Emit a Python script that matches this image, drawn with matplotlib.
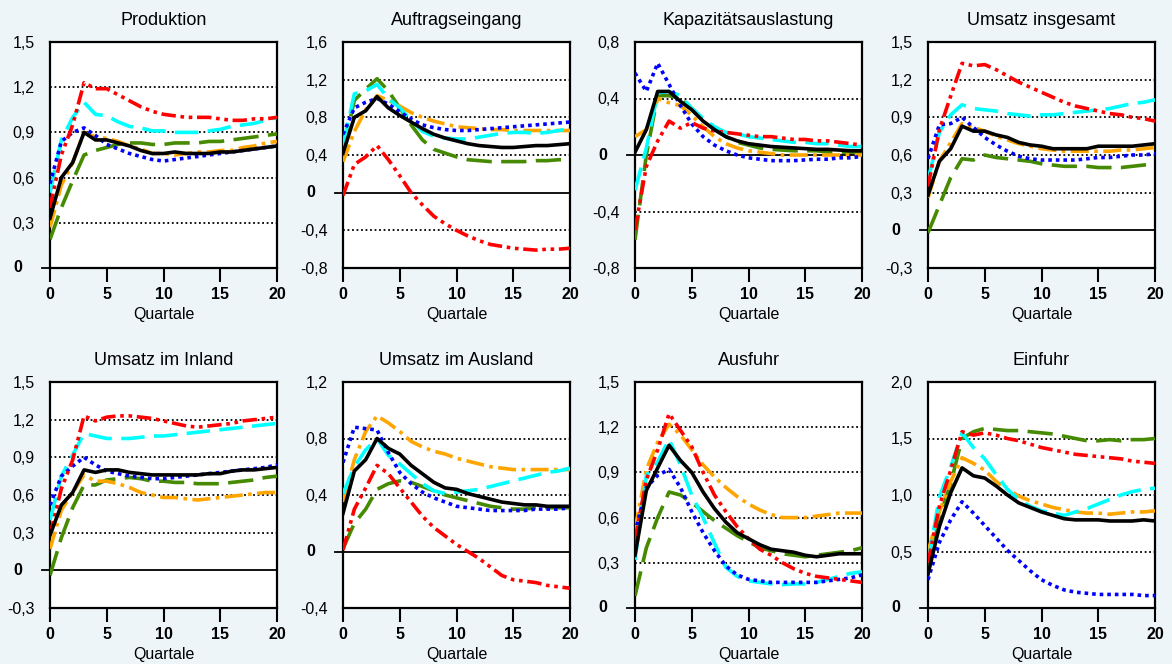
import matplotlib.pyplot as plt
from matplotlib.transforms import blended_transform_factory

plt.rcParams['font.family'] = ['Liberation Sans', 'DejaVu Sans']

quarters = list(range(21))

# Produktion
prod_black  = [0.33, 0.60, 0.70, 0.90, 0.85, 0.85, 0.83, 0.81, 0.78, 0.76, 0.76, 0.77, 0.76, 0.76, 0.76, 0.77, 0.77, 0.78, 0.79, 0.80, 0.81]
prod_red    = [0.40, 0.75, 0.95, 1.23, 1.19, 1.19, 1.15, 1.11, 1.07, 1.04, 1.02, 1.01, 1.00, 1.00, 1.00, 0.99, 0.98, 0.98, 0.99, 0.99, 1.00]
prod_cyan   = [0.50, 0.85, 1.00, 1.10, 1.02, 1.01, 0.97, 0.94, 0.93, 0.91, 0.91, 0.90, 0.90, 0.90, 0.91, 0.92, 0.94, 0.95, 0.96, 0.98, 1.00]
prod_blue   = [0.56, 0.84, 0.90, 0.93, 0.88, 0.82, 0.79, 0.76, 0.74, 0.72, 0.71, 0.72, 0.73, 0.74, 0.75, 0.76, 0.77, 0.78, 0.79, 0.80, 0.81]
prod_orange = [0.27, 0.55, 0.70, 0.90, 0.87, 0.86, 0.84, 0.81, 0.79, 0.76, 0.76, 0.75, 0.76, 0.77, 0.77, 0.78, 0.78, 0.80, 0.81, 0.83, 0.84]
prod_green  = [0.19, 0.40, 0.58, 0.75, 0.78, 0.80, 0.82, 0.83, 0.83, 0.82, 0.82, 0.83, 0.83, 0.83, 0.84, 0.84, 0.85, 0.86, 0.87, 0.88, 0.89]

# Auftragseingang
auft_black  = [0.42, 0.80, 0.87, 1.02, 0.90, 0.82, 0.75, 0.68, 0.62, 0.58, 0.55, 0.52, 0.50, 0.49, 0.48, 0.48, 0.49, 0.50, 0.50, 0.51, 0.52]
auft_red    = [-0.03, 0.30, 0.38, 0.50, 0.35, 0.18, 0.00, -0.13, -0.25, -0.33, -0.40, -0.46, -0.51, -0.55, -0.57, -0.59, -0.60, -0.61, -0.60, -0.60, -0.59]
auft_cyan   = [0.50, 1.05, 1.08, 1.15, 1.00, 0.90, 0.77, 0.65, 0.60, 0.58, 0.57, 0.57, 0.59, 0.61, 0.63, 0.64, 0.64, 0.63, 0.64, 0.66, 0.68]
auft_blue   = [0.62, 0.90, 0.96, 1.00, 0.94, 0.86, 0.78, 0.72, 0.69, 0.67, 0.66, 0.66, 0.67, 0.68, 0.69, 0.70, 0.71, 0.72, 0.73, 0.74, 0.75]
auft_orange = [0.33, 0.65, 0.88, 1.03, 0.98, 0.92, 0.85, 0.80, 0.76, 0.73, 0.70, 0.69, 0.68, 0.67, 0.67, 0.66, 0.66, 0.66, 0.66, 0.66, 0.66]
auft_green  = [0.45, 0.98, 1.10, 1.21, 1.08, 0.90, 0.72, 0.56, 0.46, 0.42, 0.38, 0.35, 0.34, 0.33, 0.33, 0.33, 0.33, 0.34, 0.34, 0.35, 0.35]

# Kapazitätsauslastung
kapa_black  = [0.02, 0.18, 0.45, 0.45, 0.38, 0.32, 0.24, 0.18, 0.13, 0.10, 0.08, 0.07, 0.06, 0.055, 0.05, 0.045, 0.04, 0.04, 0.035, 0.03, 0.03]
kapa_red    = [-0.53, -0.08, 0.10, 0.24, 0.19, 0.23, 0.19, 0.17, 0.16, 0.15, 0.14, 0.13, 0.13, 0.12, 0.11, 0.11, 0.10, 0.10, 0.09, 0.08, 0.07]
kapa_cyan   = [-0.25, 0.05, 0.44, 0.45, 0.42, 0.33, 0.26, 0.20, 0.16, 0.15, 0.13, 0.12, 0.11, 0.10, 0.09, 0.09, 0.08, 0.08, 0.07, 0.06, 0.06]
kapa_blue   = [0.58, 0.45, 0.65, 0.50, 0.35, 0.22, 0.13, 0.07, 0.03, 0.00, -0.02, -0.03, -0.04, -0.04, -0.04, -0.035, -0.03, -0.03, -0.02, -0.02, -0.01]
kapa_orange = [0.13, 0.18, 0.40, 0.37, 0.35, 0.28, 0.20, 0.13, 0.08, 0.05, 0.03, 0.02, 0.01, 0.00, 0.00, 0.00, 0.00, 0.00, 0.00, 0.00, 0.00]
kapa_green  = [-0.60, 0.00, 0.42, 0.42, 0.40, 0.33, 0.25, 0.18, 0.13, 0.09, 0.07, 0.05, 0.04, 0.035, 0.03, 0.03, 0.03, 0.02, 0.02, 0.02, 0.02]

# Umsatz insgesamt
ums_black  = [0.28, 0.55, 0.65, 0.83, 0.79, 0.79, 0.76, 0.74, 0.70, 0.68, 0.67, 0.65, 0.65, 0.65, 0.65, 0.67, 0.67, 0.67, 0.67, 0.68, 0.69]
ums_red    = [0.35, 0.80, 1.07, 1.33, 1.31, 1.32, 1.28, 1.23, 1.18, 1.14, 1.10, 1.06, 1.02, 0.99, 0.97, 0.95, 0.93, 0.92, 0.90, 0.89, 0.87]
ums_cyan   = [0.40, 0.78, 0.92, 1.00, 0.97, 0.96, 0.95, 0.93, 0.92, 0.91, 0.92, 0.92, 0.93, 0.94, 0.95, 0.96, 0.97, 0.99, 1.01, 1.02, 1.04]
ums_blue   = [0.57, 0.84, 0.85, 0.90, 0.82, 0.74, 0.68, 0.63, 0.59, 0.57, 0.56, 0.56, 0.56, 0.56, 0.57, 0.58, 0.58, 0.59, 0.60, 0.60, 0.61]
ums_orange = [0.26, 0.55, 0.70, 0.85, 0.82, 0.79, 0.75, 0.72, 0.69, 0.67, 0.65, 0.64, 0.63, 0.63, 0.63, 0.63, 0.63, 0.64, 0.64, 0.65, 0.66]
ums_green  = [-0.02, 0.20, 0.42, 0.57, 0.56, 0.60, 0.58, 0.57, 0.56, 0.55, 0.53, 0.52, 0.51, 0.51, 0.51, 0.50, 0.50, 0.50, 0.51, 0.52, 0.53]

# Umsatz im Inland
inl_black  = [0.28, 0.52, 0.62, 0.80, 0.78, 0.80, 0.80, 0.78, 0.77, 0.76, 0.76, 0.76, 0.76, 0.76, 0.77, 0.77, 0.79, 0.80, 0.80, 0.81, 0.82]
inl_red    = [0.28, 0.65, 0.88, 1.23, 1.19, 1.22, 1.23, 1.23, 1.22, 1.21, 1.19, 1.17, 1.15, 1.14, 1.15, 1.16, 1.17, 1.19, 1.20, 1.21, 1.22]
inl_cyan   = [0.40, 0.75, 0.92, 1.09, 1.07, 1.05, 1.05, 1.05, 1.06, 1.07, 1.07, 1.08, 1.09, 1.10, 1.11, 1.12, 1.13, 1.14, 1.15, 1.16, 1.17]
inl_blue   = [0.52, 0.75, 0.83, 0.90, 0.84, 0.79, 0.77, 0.75, 0.74, 0.73, 0.73, 0.74, 0.75, 0.76, 0.77, 0.78, 0.79, 0.80, 0.81, 0.82, 0.84]
inl_orange = [0.17, 0.48, 0.62, 0.76, 0.71, 0.71, 0.69, 0.66, 0.62, 0.60, 0.58, 0.58, 0.57, 0.56, 0.57, 0.58, 0.59, 0.60, 0.61, 0.62, 0.62]
inl_green  = [-0.04, 0.26, 0.50, 0.68, 0.68, 0.72, 0.73, 0.74, 0.73, 0.71, 0.71, 0.70, 0.70, 0.69, 0.69, 0.69, 0.70, 0.71, 0.72, 0.74, 0.75]

# Umsatz im Ausland
ausl_black  = [0.27, 0.57, 0.65, 0.80, 0.73, 0.69, 0.61, 0.55, 0.49, 0.45, 0.44, 0.41, 0.39, 0.37, 0.35, 0.34, 0.33, 0.33, 0.32, 0.32, 0.32]
ausl_red    = [0.01, 0.30, 0.45, 0.61, 0.55, 0.45, 0.35, 0.25, 0.17, 0.11, 0.05, 0.00, -0.05, -0.11, -0.17, -0.20, -0.21, -0.22, -0.24, -0.25, -0.26]
ausl_cyan   = [0.41, 0.60, 0.72, 0.80, 0.68, 0.62, 0.55, 0.48, 0.43, 0.41, 0.42, 0.43, 0.44, 0.46, 0.48, 0.50, 0.52, 0.54, 0.56, 0.57, 0.59]
ausl_blue   = [0.63, 0.88, 0.87, 0.86, 0.70, 0.56, 0.48, 0.42, 0.38, 0.35, 0.32, 0.31, 0.30, 0.29, 0.29, 0.29, 0.29, 0.30, 0.30, 0.30, 0.31]
ausl_orange = [0.35, 0.65, 0.85, 0.96, 0.91, 0.85, 0.78, 0.74, 0.71, 0.69, 0.66, 0.64, 0.62, 0.60, 0.59, 0.58, 0.58, 0.58, 0.58, 0.58, 0.58]
ausl_green  = [0.02, 0.20, 0.30, 0.44, 0.48, 0.50, 0.49, 0.46, 0.43, 0.40, 0.38, 0.36, 0.34, 0.32, 0.31, 0.30, 0.30, 0.31, 0.31, 0.31, 0.31]

# Ausfuhr
ausf_black  = [0.35, 0.78, 0.93, 1.08, 0.98, 0.90, 0.77, 0.66, 0.57, 0.50, 0.46, 0.42, 0.39, 0.38, 0.37, 0.35, 0.34, 0.35, 0.36, 0.36, 0.36]
ausf_red    = [0.45, 0.85, 1.05, 1.29, 1.18, 1.07, 0.90, 0.75, 0.64, 0.54, 0.46, 0.39, 0.35, 0.30, 0.26, 0.23, 0.21, 0.20, 0.19, 0.18, 0.17]
ausf_cyan   = [0.32, 0.88, 0.97, 1.12, 0.95, 0.75, 0.60, 0.43, 0.27, 0.21, 0.18, 0.17, 0.16, 0.155, 0.16, 0.16, 0.17, 0.19, 0.21, 0.23, 0.24]
ausf_blue   = [0.50, 0.80, 0.88, 0.92, 0.80, 0.64, 0.50, 0.38, 0.28, 0.22, 0.19, 0.18, 0.17, 0.17, 0.17, 0.17, 0.17, 0.18, 0.19, 0.20, 0.22]
ausf_orange = [0.52, 0.92, 1.10, 1.22, 1.15, 1.05, 0.95, 0.87, 0.80, 0.74, 0.69, 0.65, 0.62, 0.60, 0.60, 0.60, 0.61, 0.62, 0.63, 0.63, 0.63]
ausf_green  = [0.08, 0.40, 0.60, 0.77, 0.75, 0.70, 0.64, 0.58, 0.53, 0.48, 0.44, 0.40, 0.38, 0.36, 0.35, 0.34, 0.35, 0.36, 0.37, 0.38, 0.40]

# Einfuhr
einf_black  = [0.30, 0.72, 1.02, 1.24, 1.17, 1.15, 1.08, 1.00, 0.93, 0.89, 0.85, 0.82, 0.79, 0.78, 0.78, 0.78, 0.77, 0.77, 0.77, 0.78, 0.77]
einf_red    = [0.40, 0.90, 1.22, 1.56, 1.53, 1.55, 1.53, 1.50, 1.48, 1.45, 1.42, 1.40, 1.38, 1.36, 1.35, 1.34, 1.33, 1.32, 1.30, 1.29, 1.28]
einf_cyan   = [0.40, 0.98, 1.25, 1.55, 1.42, 1.32, 1.18, 1.05, 0.96, 0.90, 0.86, 0.84, 0.82, 0.85, 0.88, 0.92, 0.96, 1.00, 1.03, 1.05, 1.06]
einf_blue   = [0.25, 0.58, 0.78, 0.94, 0.84, 0.73, 0.62, 0.51, 0.42, 0.33, 0.25, 0.20, 0.16, 0.14, 0.13, 0.12, 0.12, 0.12, 0.12, 0.11, 0.11]
einf_orange = [0.50, 0.85, 1.12, 1.33, 1.28, 1.22, 1.12, 1.05, 0.99, 0.95, 0.92, 0.89, 0.87, 0.85, 0.84, 0.84, 0.83, 0.84, 0.85, 0.85, 0.86]
einf_green  = [0.30, 0.80, 1.10, 1.50, 1.56, 1.59, 1.58, 1.57, 1.57, 1.56, 1.55, 1.54, 1.52, 1.50, 1.48, 1.48, 1.49, 1.48, 1.49, 1.49, 1.50]

titles = ["Produktion", "Auftragseingang", "Kapazitätsauslastung", "Umsatz insgesamt",
          "Umsatz im Inland", "Umsatz im Ausland", "Ausfuhr", "Einfuhr"]
yticks = [
    [0, 0.3, 0.6, 0.9, 1.2, 1.5],
    [-0.8, -0.4, 0, 0.4, 0.8, 1.2, 1.6],
    [-0.8, -0.4, 0, 0.4, 0.8],
    [-0.3, 0, 0.3, 0.6, 0.9, 1.2, 1.5],
    [-0.3, 0, 0.3, 0.6, 0.9, 1.2, 1.5],
    [-0.4, 0, 0.4, 0.8, 1.2],
    [0, 0.3, 0.6, 0.9, 1.2, 1.5],
    [0, 0.5, 1.0, 1.5, 2.0],
]
series = [
    [prod_green, prod_orange, prod_cyan, prod_blue, prod_red, prod_black],
    [auft_green, auft_orange, auft_cyan, auft_blue, auft_red, auft_black],
    [kapa_green, kapa_orange, kapa_cyan, kapa_blue, kapa_red, kapa_black],
    [ums_green, ums_orange, ums_cyan, ums_blue, ums_red, ums_black],
    [inl_green, inl_orange, inl_cyan, inl_blue, inl_red, inl_black],
    [ausl_green, ausl_orange, ausl_cyan, ausl_blue, ausl_red, ausl_black],
    [ausf_green, ausf_orange, ausf_cyan, ausf_blue, ausf_red, ausf_black],
    [einf_green, einf_orange, einf_cyan, einf_blue, einf_red, einf_black],
]

styles = [
    dict(color='#458a00', dashes=(7, 2.6)),
    dict(color='#ffa500', dashes=(5, 1.5, 1, 1.5)),
    dict(color='#00ffff', dashes=(6.5, 2.6)),
    dict(color='#0000ff', dashes=(1, 1.1)),
    dict(color='#ff0000', dashes=(4, 1.3, 1, 1.3, 1, 1.3)),
    dict(color='black'),
]

bg = '#edf5f9'
fig = plt.figure(figsize=(11.72, 6.64), dpi=100, facecolor=bg)

lefts = [50, 343, 635, 928]
tops = [42, 382]
W, H = 227, 226

for i, (title, ticks, lines) in enumerate(zip(titles, yticks, series)):
    row, col = divmod(i, 4)
    ax = fig.add_axes([lefts[col] / 1172, 1 - (tops[row] + H) / 664, W / 1172, H / 664])
    ax.set_facecolor('white')

    for t in ticks:
        if t != 0:
            ax.axhline(t, color='black', lw=1.3, ls=(0, (1, 1.5)), zorder=1)
    trans = blended_transform_factory(ax.transAxes, ax.transData)
    ax.plot([-0.035, 1], [0, 0], color='black', lw=1.3, transform=trans, clip_on=False, zorder=1)

    for y, st in zip(lines, styles):
        ax.plot(quarters, y, lw=2.6, zorder=3, **st)

    ax.set_xlim(0, 20)
    ax.set_ylim(ticks[0], ticks[-1])
    ax.set_xticks([0, 5, 10, 15, 20])
    ax.tick_params(axis='x', length=10, width=1.5, pad=4, labelsize=11.5)
    for lab in ax.get_xticklabels():
        lab.set_fontweight('bold')
    ax.set_yticks(ticks)
    ax.set_yticklabels(['' if t == 0 else f"{t:.1f}".replace('.', ',') for t in ticks])
    ax.tick_params(axis='y', length=0, pad=11, labelsize=11.5)
    ax.annotate('0', xy=(0, 0), xycoords=trans, xytext=(-37, 0), textcoords='offset pixels',
                ha='left', va='center', fontweight='bold', fontsize=11.5, annotation_clip=False)
    for s in ax.spines.values():
        s.set_linewidth(1.6)
    ax.set_title(title, fontsize=13, pad=12)
    ax.set_xlabel('Quartale', fontsize=11.5, labelpad=3)

fig.savefig('out.png', dpi=100, facecolor=bg)
